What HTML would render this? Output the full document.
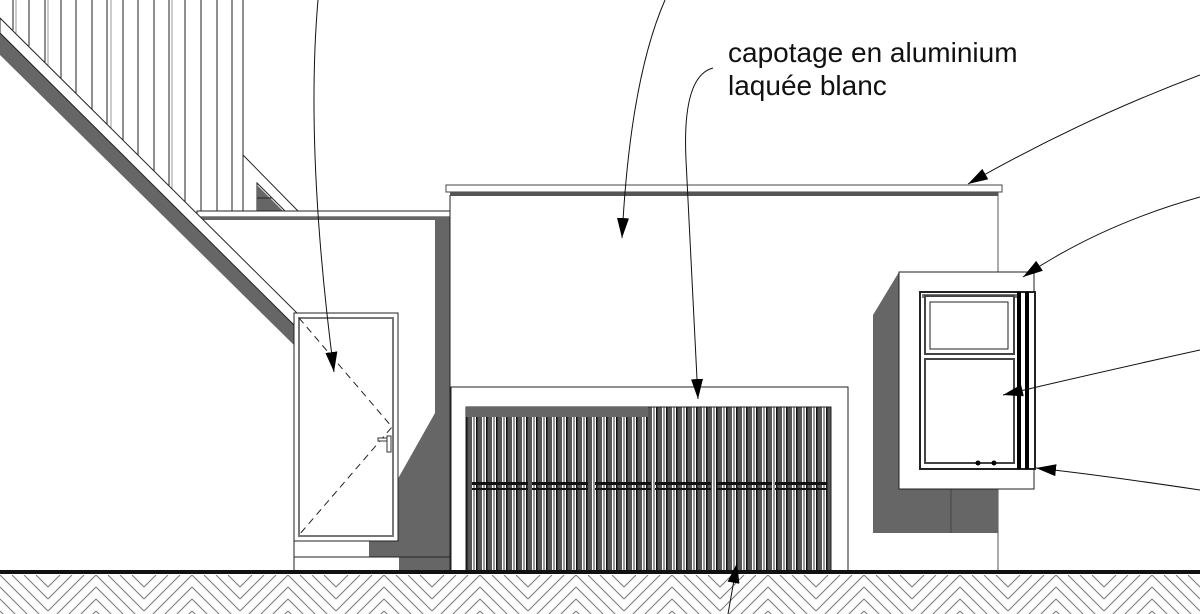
<!DOCTYPE html>
<html><head><meta charset="utf-8"><style>
html,body{margin:0;padding:0;background:#fff;width:1200px;height:614px;overflow:hidden}
svg{display:block}
text{font-family:"Liberation Sans",sans-serif;font-size:28px;fill:#111}
</style></head><body>
<svg width="1200" height="614" viewBox="0 0 1200 614" xmlns="http://www.w3.org/2000/svg">
<defs>
<marker id="ah" markerUnits="userSpaceOnUse" markerWidth="22" markerHeight="14" refX="20" refY="6" orient="auto">
<path d="M0,0 L20,6 L0,12 z" fill="#000"/>
</marker>
<pattern id="slat" x="466" y="0" width="10" height="614" patternUnits="userSpaceOnUse">
<rect x="0" y="0" width="10" height="614" fill="#fff"/>
<rect x="0" y="0" width="6" height="614" fill="#555"/>
<rect x="0" y="0" width="1.5" height="614" fill="#111"/>
<rect x="7" y="0" width="2" height="614" fill="#999"/>
</pattern>
<pattern id="hb" x="0" y="575" width="96" height="48" patternUnits="userSpaceOnUse">
<g stroke="#777" stroke-width="1">
<path d="M0,0 L48,48 M12,0 L48,36 M24,0 L48,24 M36,0 L48,12 M0,12 L36,48 M0,24 L24,48 M0,36 L12,48"/>
<path d="M96,0 L48,48 M84,0 L48,36 M72,0 L48,24 M60,0 L48,12 M96,12 L60,48 M96,24 L72,48 M96,36 L84,48"/>
</g>
</pattern>
</defs>

<g stroke="#222" stroke-width="1">
<line x1="13" y1="0" x2="13" y2="30"/><line x1="29" y1="0" x2="29" y2="46"/>
<line x1="45" y1="0" x2="45" y2="62"/><line x1="61" y1="0" x2="61" y2="78"/>
<line x1="76" y1="0" x2="76" y2="93"/><line x1="92" y1="0" x2="92" y2="109"/>
<line x1="107" y1="0" x2="107" y2="124"/><line x1="123" y1="0" x2="123" y2="140"/>
<line x1="138" y1="0" x2="138" y2="155"/><line x1="154" y1="0" x2="154" y2="171"/>
<line x1="169" y1="0" x2="169" y2="186"/><line x1="185" y1="0" x2="185" y2="202"/>
<line x1="201" y1="0" x2="201" y2="211"/><line x1="217" y1="0" x2="217" y2="211"/>
<line x1="232" y1="0" x2="232" y2="211"/><line x1="243" y1="0" x2="243" y2="211"/>
</g>
<g stroke="#999" stroke-width="1">
<line x1="16" y1="0" x2="16" y2="33"/><line x1="48" y1="0" x2="48" y2="65"/>
<line x1="111" y1="0" x2="111" y2="128"/><line x1="172" y1="0" x2="172" y2="189"/>
</g>
<rect x="243" y="170" width="14" height="41" fill="#666"/>
<polygon points="243,155 298,211 285,211 257,183 257,211 243,211" fill="#fff" stroke="#222"/>
<polygon points="257,185 283,211 257,211" fill="#666"/>
<line x1="257" y1="198" x2="272" y2="198" stroke="#222"/>

<rect x="197" y="211" width="253" height="6" fill="#fff" stroke="#222"/>
<rect x="200" y="217" width="250" height="3" fill="#666"/>
<polygon points="435,217 450,217 450,571 399,571 399,557 369,557 369,530 435,413" fill="#666"/>

<polygon points="0,33 297,328 297,348 0,55" fill="#666"/>
<polygon points="0,18 300,316 297,328 0,33" fill="#fff" stroke="#222" stroke-width="1"/>

<rect x="294" y="313" width="104" height="228" fill="#fff" stroke="#222"/>
<rect x="299" y="318" width="94" height="218" fill="none" stroke="#777" stroke-width="2"/>
<polyline points="299,318 392,427 299,535" fill="none" stroke="#222" stroke-dasharray="7,5"/>
<rect x="378" y="438" width="12" height="3" fill="#fff" stroke="#333"/>
<rect x="387" y="436" width="4" height="16" fill="#fff" stroke="#333"/>
<polyline points="294,541 294,571" stroke="#222" fill="none"/>
<line x1="294" y1="557" x2="450" y2="557" stroke="#222"/>

<line x1="450" y1="195" x2="450" y2="571" stroke="#222"/>
<line x1="998" y1="192" x2="998" y2="571" stroke="#555"/>
<rect x="446" y="185" width="556" height="7" fill="#fff" stroke="#444"/>
<rect x="450" y="192" width="548" height="4" fill="#555"/>

<rect x="451" y="387" width="397" height="184" fill="#fff" stroke="#222"/>
<rect x="466" y="407" width="365" height="164" fill="url(#slat)" stroke="#222"/>
<rect x="466" y="407" width="182" height="10" fill="#666"/>
<g fill="#111">
<rect x="472" y="482" width="56" height="3"/><rect x="472" y="488" width="56" height="2"/>
<rect x="532" y="482" width="56" height="3"/><rect x="532" y="488" width="56" height="2"/>
<rect x="595" y="482" width="56" height="3"/><rect x="595" y="488" width="56" height="2"/>
<rect x="655" y="482" width="56" height="3"/><rect x="655" y="488" width="56" height="2"/>
<rect x="716" y="482" width="56" height="3"/><rect x="716" y="488" width="56" height="2"/>
<rect x="775" y="482" width="52" height="3"/><rect x="775" y="488" width="52" height="2"/>
</g>

<polygon points="899,272 873,315 873,533 998,533 998,489 899,489" fill="#666"/>
<line x1="951" y1="489" x2="951" y2="533" stroke="#444"/>
<rect x="899" y="272" width="135" height="217" fill="#fff" stroke="#222"/>
<rect x="920" y="292" width="115" height="177" fill="#fff" stroke="#222" stroke-width="2"/>
<rect x="922" y="294" width="95" height="4" fill="#777"/>
<rect x="925" y="296" width="89" height="58" fill="#fff" stroke="#444" stroke-width="2"/>
<rect x="930" y="302" width="78" height="47" fill="#fff" stroke="#222"/>
<rect x="925" y="359" width="89" height="104" fill="#fff" stroke="#444" stroke-width="2"/>
<rect x="1017" y="292" width="4" height="177" fill="#000"/>
<rect x="1025" y="292" width="4" height="177" fill="#000"/>
<circle cx="978" cy="463" r="2.5" fill="#000"/><circle cx="994" cy="463" r="2.5" fill="#000"/>

<rect x="0" y="575" width="1200" height="39" fill="url(#hb)"/>
<rect x="0" y="570" width="1200" height="4" fill="#111"/>

<text x="728" y="62">capotage en aluminium</text>
<text x="728" y="95">laquée blanc</text>

<g fill="none" stroke="#111" stroke-width="1" marker-end="url(#ah)">
<path d="M318,0 Q305,150 334,372"/>
<path d="M665,0 Q630,80 622,238"/>
<path d="M713,68 Q682,76 686,160 L698,399"/>
<path d="M1200,75 Q1080,120 968,184"/>
<path d="M1200,197 Q1100,225 1023,277"/>
<path d="M1200,350 Q1100,372 1003,395"/>
<path d="M1200,490 Q1100,475 1036,468"/>
<path d="M728,614 L737,563"/>
</g>
</svg>
</body></html>
